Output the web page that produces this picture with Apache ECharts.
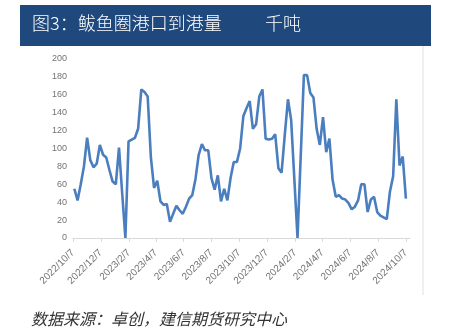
<!DOCTYPE html>
<html>
<head>
<meta charset="utf-8">
<script src="https://cdn.jsdelivr.net/npm/echarts@6/dist/echarts.min.js"></script>
<style>
  html, body { margin: 0; padding: 0; background: #ffffff; }
  #chart { width: 452px; height: 332px; }
</style>
</head>
<body>
<div id="chart"></div>
<script>
// Weekly arrivals at Bayuquan port (thousand tonnes), first week starting 2022/10/10
const firstWeek = [2022, 10, 10];
const arrivals = [
  55, 42, 60, 80, 112, 87, 79, 83, 104, 93,
  90, 76, 63, 60, 101, 50, 0, 108, 110, 112,
  122, 166, 163, 158, 90, 56, 64, 41, 37, 38,
  18, 27, 36, 31, 27, 35, 44, 48, 66, 93,
  105, 98, 98, 67, 54, 70, 41, 55, 42, 67,
  85, 85, 100, 136, 145, 153, 122, 127, 158, 166,
  111, 110, 111, 116, 78, 73, 115, 155, 132, 66,
  0, 91, 182, 182, 162, 157, 122, 104, 135, 96,
  111, 65, 46, 48, 44, 43, 39, 32, 35, 42,
  60, 60, 29, 43, 46, 29, 25, 23, 21, 52,
  69, 155, 81, 91, 44
];
const tickLabels = [
  '2022/10/7', '2022/12/7', '2023/2/7', '2023/4/7', '2023/6/7', '2023/8/7',
  '2023/10/7', '2023/12/7', '2024/2/7', '2024/4/7', '2024/6/7', '2024/8/7', '2024/10/7'
];
const yTicks = { min: 0, max: 200, step: 20 };

function parseDay(s) {
  const p = s.split('/').map(Number);
  return new Date(p[0], p[1] - 1, p[2]).getTime();
}
function fmtDay(t) {
  const d = new Date(t);
  return d.getFullYear() + '/' + (d.getMonth() + 1) + '/' + d.getDate();
}

const tickTimes = tickLabels.map(parseDay);
const seriesData = arrivals.map(function (v, i) {
  const d = new Date(firstWeek[0], firstWeek[1] - 1, firstWeek[2] + 7 * i);
  return [d.getTime(), v];
});

const chart = echarts.init(document.getElementById('chart'), null, { renderer: 'canvas' });
chart.setOption({
  animation: false,
  backgroundColor: '#ffffff',
  grid: { left: 73, right: 42, top: 59, bottom: 94, containLabel: false },
  xAxis: {
    // date axis: values are timestamps, ticks placed on the 7th of every other month
    type: 'value',
    min: tickTimes[0],
    max: parseDay('2024/10/16'),
    axisLine: { show: true, lineStyle: { color: '#d9d9d9', width: 1 } },
    axisTick: { show: true, length: 4, customValues: tickTimes, lineStyle: { color: '#d9d9d9' } },
    axisLabel: {
      customValues: tickTimes,
      rotate: 45,
      margin: 13,
      color: '#737373',
      fontSize: 10,
      fontFamily: 'Liberation Sans, Arial, sans-serif',
      formatter: function (v) { return fmtDay(v); }
    },
    splitLine: { show: false }
  },
  yAxis: {
    type: 'value',
    min: yTicks.min,
    max: yTicks.max,
    interval: yTicks.step,
    axisLine: { show: false },
    axisTick: { show: false },
    splitLine: { show: false },
    axisLabel: {
      color: '#737373',
      fontSize: 9,
      margin: 6,
      fontFamily: 'Liberation Sans, Arial, sans-serif'
    }
  },
  series: [{
    type: 'line',
    data: seriesData,
    showSymbol: false,
    smooth: false,
    lineStyle: { color: '#4a7ebf', width: 2.6 },
    itemStyle: { color: '#4a7ebf' }
  }],
  graphic: [
    {
      type: 'rect',
      shape: { x: 20, y: 5, width: 411, height: 41 },
      style: { fill: '#1f497d' },
      silent: true
    },
    {
      type: 'text',
      x: 32, y: 23,
      style: {
        text: '图3：鲅鱼圈港口到港量',
        fill: '#ffffff',
        font: '300 18px "Noto Sans CJK SC"',
        textVerticalAlign: 'middle'
      }
    },
    {
      type: 'text',
      x: 265, y: 23,
      style: {
        text: '千吨',
        fill: '#ffffff',
        font: '300 18px "Noto Sans CJK SC"',
        textVerticalAlign: 'middle'
      }
    },
    {
      type: 'line',
      shape: { x1: 423, y1: 46, x2: 423, y2: 295 },
      style: { stroke: '#e0e0e0', lineWidth: 1 },
      silent: true
    },
    {
      type: 'text',
      x: 31, y: 319,
      style: {
        text: '数据来源：卓创，建信期货研究中心',
        fill: '#333333',
        font: 'italic 16px "Noto Sans CJK SC"',
        textVerticalAlign: 'middle'
      }
    }
  ]
});
</script>
</body>
</html>
